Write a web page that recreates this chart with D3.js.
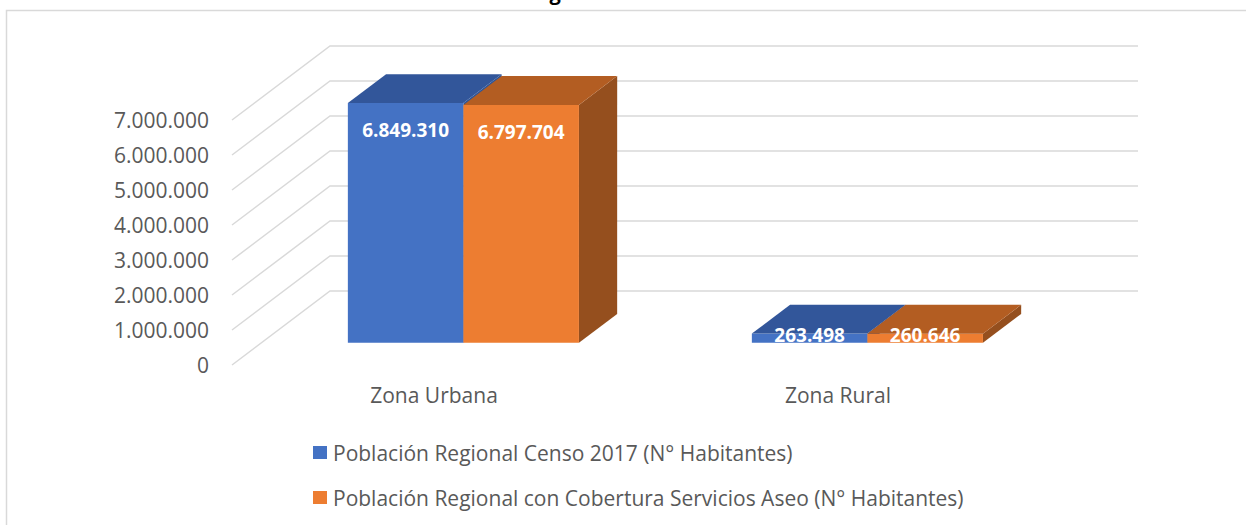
<!DOCTYPE html>
<html>
<head>
<meta charset="utf-8">
<script src="https://cdn.jsdelivr.net/npm/d3@7"></script>
<style>
  body { margin: 0; background: #fff; }
  svg { display: block; font-family: "Open Sans", sans-serif; }
</style>
</head>
<body>
<script>
// data
const categories = ["Zona Urbana", "Zona Rural"];
const seriesNames = [
  "Población Regional Censo 2017 (N° Habitantes)",
  "Población Regional con Cobertura Servicios Aseo (N° Habitantes)"
];
const censo = [6849310, 263498];
const cobertura = [6797704, 260646];
const yTicks = [0, 1000000, 2000000, 3000000, 4000000, 5000000, 6000000, 7000000];
const titleText = "Gráfico N° 2: Población Regional con Cobertura de Servicio de Aseo";

const width = 1246, height = 525;
const colors = [
  {front: "#4472C4", top: "#32569A", side: "#2F5597"},
  {front: "#ED7D31", top: "#B35D22", side: "#954F1E"}
];

// 3d depth: full wall depth offset
const depthX = 98, depthY = 74;
const d0 = 0.3, d1 = 0.69; // bar front/back depth fraction

const fmt = v => d3.format(",")(v).replace(/,/g, ".");

const svg = d3.select("body").append("svg")
  .attr("width", width)
  .attr("height", height);

// chart border
svg.append("rect")
  .attr("x", 6.5).attr("y", 10.5)
  .attr("width", 1400).attr("height", 700)
  .attr("fill", "none").attr("stroke", "#d9d9d9").attr("stroke-width", 1.5);

// title (mostly above the visible area, as in the reference)
svg.append("text")
  .attr("x", 623).attr("y", 0)
  .attr("text-anchor", "middle")
  .attr("font-weight", "bold")
  .attr("font-size", 20)
  .attr("fill", "#000")
  .text(titleText);

const y = d3.scaleLinear().domain([0, 7000000]).range([365, 120]);
const x0 = d3.scaleBand().domain(categories).range([232, 1040]).padding(0);
const groupW = x0.bandwidth() * 0.572;
const x1 = d3.scaleBand().domain([0, 1]).range([-groupW / 2, groupW / 2]).padding(0);

// gridlines: front diagonal + back wall
const grid = svg.append("g").attr("stroke", "#d9d9d9").attr("stroke-width", 1.5).attr("fill", "none");
yTicks.forEach(t => {
  const fy = y(t);
  grid.append("polyline")
    .attr("points", [[232, fy], [232 + depthX, fy - depthY], [1040 + depthX, fy - depthY]].map(p => p.join(",")).join(" "));
});

// tick labels
svg.append("g").selectAll("text")
  .data(yTicks)
  .join("text")
  .attr("x", 209)
  .attr("y", d => y(d))
  .attr("text-anchor", "end")
  .attr("dominant-baseline", "central")
  .attr("font-size", 21)
  .attr("fill", "#595959")
  .text(d => fmt(d));

// bars
const bars = [];
categories.forEach((c, ci) => {
  [censo, cobertura].forEach((arr, si) => {
    bars.push({cat: c, s: si, v: arr[ci]});
  });
});

const barG = svg.append("g");
bars.forEach(b => {
  const xl = x0(b.cat) + x0.bandwidth() / 2 + x1(b.s);
  const xr = xl + x1.bandwidth();
  const yt = y(b.v), yb = y(0);
  const ox0 = d0 * depthX, oy0 = d0 * depthY;
  const ox1 = d1 * depthX, oy1 = d1 * depthY;
  const col = colors[b.s];
  const P = pts => pts.map(p => p.join(",")).join(" ");
  // side
  barG.append("polygon")
    .attr("points", P([[xr + ox0, yt - oy0], [xr + ox1, yt - oy1], [xr + ox1, yb - oy1], [xr + ox0, yb - oy0]]))
    .attr("fill", col.side);
  // front
  barG.append("polygon")
    .attr("points", P([[xl + ox0, yt - oy0], [xr + ox0, yt - oy0], [xr + ox0, yb - oy0], [xl + ox0, yb - oy0]]))
    .attr("fill", col.front);
  // top
  barG.append("polygon")
    .attr("points", P([[xl + ox0, yt - oy0], [xr + ox0, yt - oy0], [xr + ox1, yt - oy1], [xl + ox1, yt - oy1]]))
    .attr("fill", col.top);
  b.cx = (xl + xr) / 2 + ox0;
  b.ty = yt - oy0;
  b.by = yb - oy0;
});

// value labels
svg.append("g").selectAll("text")
  .data(bars)
  .join("text")
  .attr("x", d => d.cx)
  .attr("y", d => Math.min(d.ty + 34, d.by - 1))
  .attr("text-anchor", "middle")
  .attr("font-weight", "bold")
  .attr("font-size", 19)
  .attr("fill", "#fff")
  .text(d => fmt(d.v));

// category labels
svg.append("g").selectAll("text")
  .data(categories)
  .join("text")
  .attr("x", d => x0(d) + x0.bandwidth() / 2)
  .attr("y", 403)
  .attr("text-anchor", "middle")
  .attr("font-size", 21)
  .attr("fill", "#595959")
  .text(d => d);

// legend
const leg = svg.append("g").selectAll("g")
  .data(seriesNames)
  .join("g")
  .attr("transform", (d, i) => `translate(313,${452.5 + i * 45})`);
leg.append("rect")
  .attr("x", 0).attr("y", -6.5)
  .attr("width", 14).attr("height", 13)
  .attr("fill", (d, i) => colors[i].front);
leg.append("text")
  .attr("x", 20).attr("y", 0)
  .attr("dominant-baseline", "central")
  .attr("font-size", 21)
  .attr("fill", "#595959")
  .text(d => d);
</script>
</body>
</html>
